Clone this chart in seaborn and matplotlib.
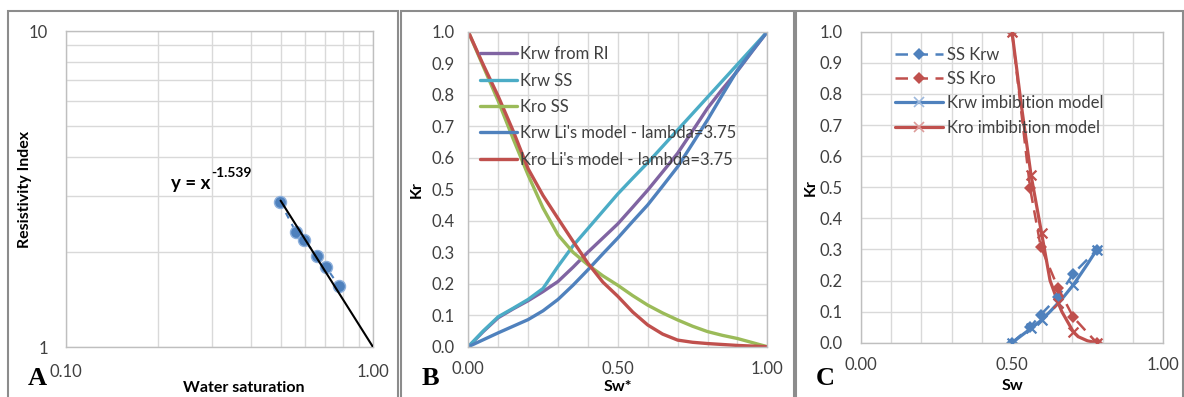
import matplotlib
matplotlib.use("Agg")
import pandas as pd
import matplotlib.pyplot as plt
from matplotlib.lines import Line2D
from matplotlib.patches import Rectangle
import seaborn as sns

# ---- panel A: resistivity index vs water saturation ----
sw_ri = [0.498, 0.561, 0.596, 0.657, 0.703, 0.775]
ri = [2.88, 2.31, 2.18, 1.94, 1.79, 1.56]
ri_exponent = -1.539
trend_sw = [0.5, 1.0]

# ---- panel B: normalised saturation Sw* ----
sw_star = [0.0, 0.05, 0.1, 0.15, 0.2, 0.25, 0.3, 0.35, 0.4, 0.45, 0.5,
           0.55, 0.6, 0.65, 0.7, 0.75, 0.8, 0.85, 0.9, 0.95, 1.0]
krw_ri = [0.0, 0.048, 0.092, 0.12, 0.146, 0.175, 0.207, 0.252, 0.30, 0.345, 0.39,
          0.443, 0.497, 0.555, 0.614, 0.685, 0.757, 0.818, 0.875, 0.938, 1.0]
krw_ss = [0.0, 0.05, 0.095, 0.122, 0.15, 0.185, 0.255, 0.32, 0.375, 0.43, 0.485,
          0.535, 0.584, 0.636, 0.688, 0.74, 0.792, 0.844, 0.896, 0.948, 1.0]
kro_ss = [1.0, 0.89, 0.78, 0.66, 0.545, 0.44, 0.355, 0.30, 0.26, 0.225, 0.195,
          0.162, 0.132, 0.107, 0.085, 0.065, 0.048, 0.036, 0.026, 0.013, 0.0]
krw_li = [0.0, 0.022, 0.044, 0.065, 0.086, 0.114, 0.15, 0.195, 0.244, 0.295, 0.345,
          0.398, 0.45, 0.51, 0.571, 0.645, 0.72, 0.80, 0.878, 0.94, 1.0]
kro_li = [1.0, 0.895, 0.795, 0.685, 0.565, 0.48, 0.407, 0.335, 0.265, 0.205, 0.16,
          0.11, 0.069, 0.04, 0.021, 0.014, 0.01, 0.007, 0.004, 0.002, 0.0]
b_labels = ["Krw from RI", "Krw SS", "Kro SS",
            "Krw Li's model - lambda=3.75", "Kro Li's model - lambda=3.75"]

# ---- panel C: steady state vs imbibition model ----
sw_ss = [0.50, 0.56, 0.595, 0.653, 0.703, 0.78]
ss_krw = [0.0, 0.05, 0.09, 0.148, 0.222, 0.298]
ss_kro = [1.0, 0.496, 0.309, 0.175, 0.082, 0.0]
sw_model_pts = [0.50, 0.563, 0.598, 0.653, 0.703, 0.78]
krw_model_pts = [0.0, 0.046, 0.073, 0.128, 0.186, 0.298]
kro_model_pts = [1.0, 0.539, 0.352, 0.128, 0.035, 0.0]
sw_model_curve = [0.50, 0.53, 0.563, 0.598, 0.626, 0.653, 0.665, 0.703, 0.72, 0.75, 0.78]
krw_model_curve = [0.0, 0.022, 0.046, 0.073, 0.1, 0.128, 0.14, 0.186, 0.21, 0.253, 0.298]
kro_model_curve = [1.0, 0.77, 0.539, 0.352, 0.2, 0.128, 0.1, 0.035, 0.019, 0.006, 0.0]

BLUE, RED, PURPLE, CYAN, GREEN = "#4F81BD", "#C0504D", "#8064A2", "#4BACC6", "#9BBB59"
GRID = "#D9D9D9"
TXT = "#404040"
LAB = 11.5

sns.set_theme(style="white")
plt.rcParams["font.family"] = ["Lato", "DejaVu Sans"]

fig = plt.figure(figsize=(11.84, 3.97), dpi=100)
W, H = 1184, 397


def px_axes(x0, y0, x1, y1):
    return fig.add_axes([x0 / W, (H - y1) / H, (x1 - x0) / W, (y1 - y0) / H])


def style(ax):
    for s in ax.spines.values():
        s.set_color("#BFBFBF")
        s.set_linewidth(1)
    ax.tick_params(which="both", length=0, labelsize=12, labelcolor=TXT, pad=10)
    ax.grid(True, which="both", color=GRID, linewidth=1)
    ax.set_axisbelow(True)


# panel frames
for x0, x1 in [(7.5, 398), (401, 794), (796, 1183)]:
    fig.add_artist(Rectangle((x0 / W, -0.1), (x1 - x0) / W, (H - 11) / H + 0.1,
                             transform=fig.transFigure, fill=False,
                             edgecolor="#8C8C8C", linewidth=1.5))

# ---------------- A ----------------
axA = px_axes(66, 31, 373, 347)
axA.set_xscale("log")
axA.set_yscale("log")
sns.lineplot(x=sw_ri, y=ri, ax=axA, color=BLUE, linestyle=(0, (3, 3)), linewidth=1.5,
             sort=False, estimator=None)
sns.scatterplot(x=sw_ri, y=ri, ax=axA, color=BLUE, s=75, edgecolor="#8DB0DC",
                linewidth=1, zorder=4)
trend_ri = [s ** ri_exponent for s in trend_sw]
sns.lineplot(x=trend_sw, y=trend_ri, ax=axA, color="black", linewidth=1.5, zorder=5)
axA.set_xlim(0.1, 1.0)
axA.set_ylim(1, 10)
axA.set_xticks([0.1, 1.0], labels=["0.10", "1.00"])
axA.set_xticks([0.2, 0.3, 0.4, 0.5, 0.6, 0.7, 0.8, 0.9], minor=True, labels=[])
axA.set_yticks([1, 10], labels=["1", "10"])
axA.set_yticks([2, 3, 4, 5, 6, 7, 8, 9], minor=True, labels=[])
style(axA)
axA.tick_params(axis="y", pad=13)
axA.tick_params(axis="x", pad=12)
# fitted power law label
eq = axA.text(0.22, 3.3, "y = x", fontsize=13.5, fontweight="bold", color="black",
              va="center")
axA.annotate(f"{ri_exponent}", xy=(1, 0.5), xycoords=eq, xytext=(0.5, 3),
             textcoords="offset points", fontsize=10, fontweight="bold",
             color="black", va="bottom", ha="left")
axA.set_xlabel("Water saturation", fontsize=LAB, fontweight="bold", color="black")
axA.set_ylabel("Resistivity Index", fontsize=LAB, fontweight="bold", color="black")
axA.xaxis.set_label_coords(0.58, -0.107)
axA.yaxis.set_label_coords(-0.11, 0.5)

# ---------------- B ----------------
axB = px_axes(468.3, 31.7, 767.3, 346.7)
dfB = pd.DataFrame({"sw": sw_star * 5,
                    "kr": krw_ri + krw_ss + kro_ss + krw_li + kro_li,
                    "series": sum([[lab] * len(sw_star) for lab in b_labels], [])})
sns.lineplot(data=dfB, x="sw", y="kr", hue="series", ax=axB, sort=False, estimator=None,
             palette=dict(zip(b_labels, [PURPLE, CYAN, GREEN, BLUE, RED])),
             hue_order=b_labels, linewidth=2.4)
axB.set_xlim(0, 1)
axB.set_ylim(0, 1)
axB.set_xticks([0, 0.5, 1.0], labels=["0.00", "0.50", "1.00"])
axB.set_xticks([0.1, 0.2, 0.3, 0.4, 0.6, 0.7, 0.8, 0.9], minor=True, labels=[])
axB.set_yticks([i / 10 for i in range(11)], labels=[f"{i / 10:.1f}" for i in range(11)])
style(axB)
axB.set_xlabel("Sw*", fontsize=LAB, fontweight="bold", color="black")
axB.set_ylabel("Kr", fontsize=LAB, fontweight="bold", color="black")
axB.xaxis.set_label_coords(0.5, -0.105)
axB.yaxis.set_label_coords(-0.148, 0.5)
leg = axB.legend(loc="upper left", bbox_to_anchor=(0.039, 0.954), frameon=False,
                 fontsize=12, handlelength=2.2, handletextpad=0.2, labelspacing=0.62,
                 borderaxespad=0, borderpad=0)
for t in leg.get_texts():
    t.set_color(TXT)

# ---------------- C ----------------
axC = px_axes(861, 31.7, 1163, 342.7)
sns.lineplot(x=sw_model_curve, y=krw_model_curve, ax=axC, color=BLUE, linewidth=2.3,
             sort=False, estimator=None)
sns.lineplot(x=sw_model_curve, y=kro_model_curve, ax=axC, color=RED, linewidth=2.3,
             sort=False, estimator=None)
sns.lineplot(x=sw_ss, y=ss_krw, ax=axC, color=BLUE, linewidth=1.8, linestyle=(0, (5, 3)),
             marker="D", markersize=6.5, markeredgewidth=0, sort=False, estimator=None)
sns.lineplot(x=sw_ss, y=ss_kro, ax=axC, color=RED, linewidth=1.8, linestyle=(0, (5, 3)),
             marker="D", markersize=6.5, markeredgewidth=0, sort=False, estimator=None)
sns.scatterplot(x=sw_model_pts, y=krw_model_pts, ax=axC, color=BLUE, marker="x", s=50,
                linewidth=1.6, zorder=5)
sns.scatterplot(x=sw_model_pts, y=kro_model_pts, ax=axC, color=RED, marker="x", s=50,
                linewidth=1.6, zorder=5)
axC.set_xlim(0, 1)
axC.set_ylim(0, 1)
axC.set_xticks([0, 0.5, 1.0], labels=["0.00", "0.50", "1.00"])
axC.set_xticks([0.1, 0.2, 0.3, 0.4, 0.6, 0.7, 0.8, 0.9], minor=True, labels=[])
axC.set_yticks([i / 10 for i in range(11)], labels=[f"{i / 10:.1f}" for i in range(11)])
style(axC)
axC.tick_params(axis="y", pad=13)
axC.set_xlabel("Sw", fontsize=LAB, fontweight="bold", color="black")
axC.set_ylabel("Kr", fontsize=LAB, fontweight="bold", color="black")
axC.xaxis.set_label_coords(0.5, -0.118)
axC.yaxis.set_label_coords(-0.143, 0.5)
handles = [
    Line2D([], [], color=BLUE, lw=1.8, ls=(0, (5, 3)), marker="D", ms=6.5, mew=0),
    Line2D([], [], color=RED, lw=1.8, ls=(0, (5, 3)), marker="D", ms=6.5, mew=0),
    Line2D([], [], color=BLUE, lw=2.3, marker="x", ms=7, mew=1.2, mec="#9DB9DD"),
    Line2D([], [], color=RED, lw=2.3, marker="x", ms=7, mew=1.2, mec="#DD9C9A"),
]
legC = axC.legend(handles, ["SS Krw", "SS Kro", "Krw imbibition model", "Kro imbibition model"],
                  loc="upper left", bbox_to_anchor=(0.113, 0.952), frameon=False,
                  fontsize=12, handlelength=2.9, handletextpad=0.2, labelspacing=0.5,
                  borderaxespad=0, borderpad=0)
for t in legC.get_texts():
    t.set_color(TXT)

# panel letters
for x, letter in [(28, "A"), (422, "B"), (816, "C")]:
    fig.text(x / W, (H - 385) / H, letter, fontsize=19, fontweight="bold",
             family="Liberation Serif", color="black", va="baseline")

fig.savefig("out.png", dpi=100)
